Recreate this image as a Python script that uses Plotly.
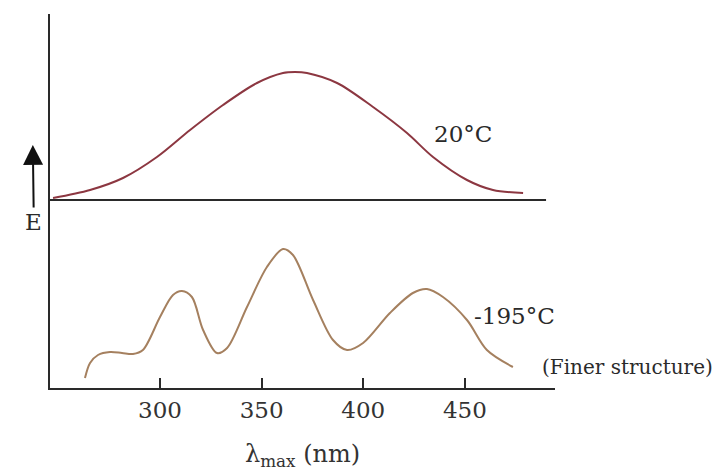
import plotly.graph_objects as go

# ---- data ----
wavelength_20C = [247.4, 265.6, 281.8, 298.5, 314.8, 331.0, 347.7, 360.5, 366.4,
                  372.3, 387.1, 404.8, 421.5, 434.3, 451.0, 463.8, 478.6]
energy_20C = [1.90, 1.98, 2.10, 2.31, 2.58, 2.83, 3.05, 3.15, 3.16,
              3.15, 3.05, 2.81, 2.55, 2.31, 2.08, 1.98, 1.95]

wavelength_m195C = [263.1, 265.6, 269.5, 275.4, 281.3, 286.7, 291.6, 300.0, 306.4,
                    310.8, 315.7, 321.2, 328.0, 333.0, 342.8, 352.6, 360.5, 365.4,
                    375.3, 385.1, 392.0, 399.9, 413.1, 424.4, 431.3, 439.2, 451.0,
                    460.8, 473.6]
energy_m195C = [0.10, 0.25, 0.33, 0.36, 0.35, 0.34, 0.38, 0.71, 0.93,
                0.97, 0.91, 0.58, 0.35, 0.40, 0.81, 1.21, 1.39, 1.33,
                0.88, 0.48, 0.38, 0.45, 0.75, 0.95, 0.99, 0.91, 0.68,
                0.38, 0.21]

baseline_E = 1.88
baseline_x = [245.9, 489.9]

tick_values = [300, 350, 400, 450]
tick_labels = ["300", "350", "400", "450"]

x_range = [245.9, 494.3]
y_range = [0, 3.74]

SERIF = "DejaVu Serif"
INK = "#2a2a2a"

fig = go.Figure()

fig.add_trace(go.Scatter(
    x=baseline_x, y=[baseline_E, baseline_E], mode="lines",
    line=dict(color=INK, width=2), hoverinfo="skip", showlegend=False))

fig.add_trace(go.Scatter(
    x=wavelength_20C, y=energy_20C, mode="lines", name="20°C",
    line=dict(color="rgb(140,55,65)", width=2, shape="spline", smoothing=0.9),
    showlegend=False))

fig.add_trace(go.Scatter(
    x=wavelength_m195C, y=energy_m195C, mode="lines", name="-195°C",
    line=dict(color="rgb(165,128,95)", width=2, shape="spline", smoothing=0.9),
    showlegend=False))

fig.update_layout(
    width=723, height=470,
    margin=dict(l=42, r=176, t=6, b=90),
    paper_bgcolor="white", plot_bgcolor="white",
    font=dict(family=SERIF, color=INK),
    xaxis=dict(
        range=x_range, showgrid=False, zeroline=False,
        showline=True, linecolor=INK, linewidth=2,
        ticks="inside", ticklen=10, tickwidth=2, tickcolor=INK,
        tickvals=tick_values, ticktext=tick_labels,
        tickfont=dict(family=SERIF, size=23, color="#333"),
        title=dict(text="λ<sub>max</sub> (nm)", font=dict(family=SERIF, size=24, color="#333"),
                   standoff=24),
    ),
    yaxis=dict(
        range=y_range, showgrid=False, zeroline=False,
        showline=True, linecolor=INK, linewidth=2,
        showticklabels=False, ticks="",
    ),
    annotations=[
        dict(text="20°C", x=449.0, y=2.54, xref="x", yref="y", showarrow=False,
             xanchor="center", yanchor="middle",
             font=dict(family=SERIF, size=23, color=INK)),
        dict(text="-195°C", x=474.6, y=0.72, xref="x", yref="y", showarrow=False,
             xanchor="center", yanchor="middle",
             font=dict(family=SERIF, size=23, color=INK)),
        dict(text="(Finer structure)", x=1.143, y=0.056, xref="paper", yref="paper",
             xanchor="center", yanchor="middle",
             showarrow=False, font=dict(family=SERIF, size=20, color=INK)),
        dict(text="E", x=-0.034, y=0.65, xref="paper", yref="paper", showarrow=True,
             xanchor="center", yanchor="middle",
             ax=1, ay=77, arrowhead=2, arrowsize=2.0, arrowwidth=2, arrowcolor="#111",
             standoff=0, startstandoff=0,
             font=dict(family=SERIF, size=23, color=INK)),
    ],
)

fig.write_html("out.html")
